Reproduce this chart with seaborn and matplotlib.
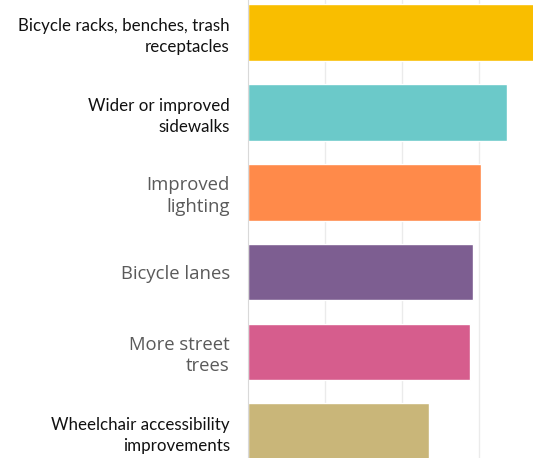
import matplotlib
matplotlib.use("Agg")
import matplotlib.pyplot as plt
import seaborn as sns
import pandas as pd

categories = ["Bicycle racks, benches, trash\nreceptacles",
              "Wider or improved\nsidewalks",
              "Improved\nlighting",
              "Bicycle lanes",
              "More street\ntrees",
              "Wheelchair accessibility\nimprovements"]
shares = [40.0, 33.6, 30.3, 29.2, 28.8, 23.5]
bar_colors = ["#F9BE00", "#6BC9C9", "#FF8A4A", "#7D5E91", "#D65D8D", "#C9B679"]
label_colors = ["#111111", "#111111", "#5A5A5A", "#5A5A5A", "#5A5A5A", "#111111"]

df = pd.DataFrame({"category": categories, "share": shares})

sns.set_style("white")
fig = plt.figure(figsize=(5.33, 4.58), dpi=100)
ax = fig.add_axes([248 / 533, 0, 285 / 533, 1])

sns.barplot(data=df, x="share", y="category", hue="category", palette=bar_colors,
            orient="h", width=0.71, legend=False, ax=ax, saturation=1)

ax.set_xlim(0, 37)
ax.set_ylim(5.33, -0.41)
ax.set_xticks([10, 20, 30])
ax.xaxis.grid(True, color="#EBEBEB", linewidth=1)
ax.set_axisbelow(True)
ax.tick_params(axis="x", bottom=False, labelbottom=False)
ax.tick_params(axis="y", left=False, pad=9.5)
ax.set_xlabel("")
ax.set_ylabel("")
for side in ["top", "right", "bottom"]:
    ax.spines[side].set_visible(False)
ax.spines["left"].set_color("#D9D9D9")

for lab, c in zip(ax.get_yticklabels(), label_colors):
    lab.set_color(c)
    if c == "#111111":
        lab.set_fontfamily("Lato")
        lab.set_fontsize(12.2)
        lab.set_linespacing(1.38)
    else:
        lab.set_fontfamily("Open Sans")
        lab.set_fontsize(13.3)
        lab.set_linespacing(1.25)

fig.savefig("out.png", dpi=100, facecolor="white")
